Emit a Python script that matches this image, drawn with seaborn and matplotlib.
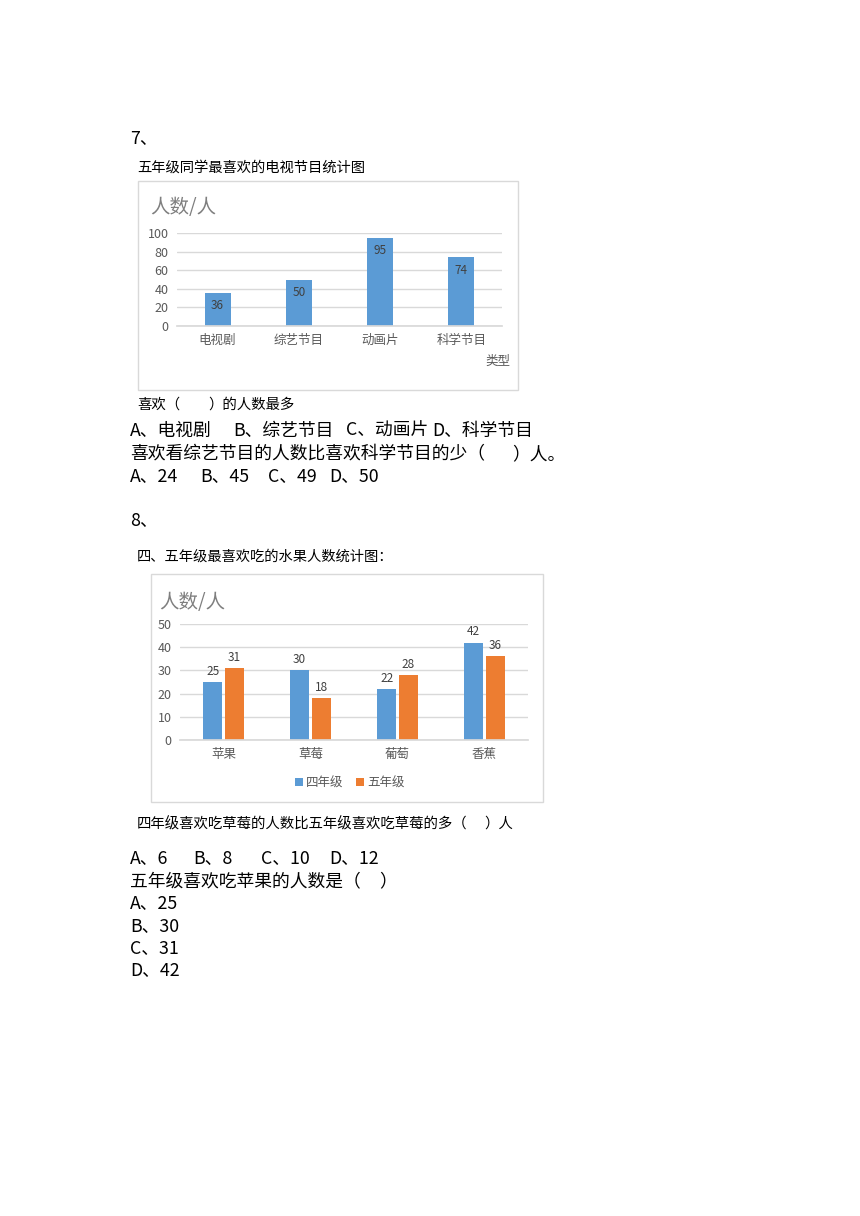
import matplotlib
import numpy as np
import pandas as pd

matplotlib.use("Agg")
import matplotlib.pyplot as plt
import seaborn as sns
from matplotlib.patches import Rectangle

# chart 7 data
tv_types  = ["电视剧", "综艺节目", "动画片", "科学节目"]
tv_counts = [36, 50, 95, 74]

# chart 8 data
fruits  = ["苹果", "草莓", "葡萄", "香蕉"]
grades  = ["四年级", "五年级"]
grade4  = [25, 30, 22, 42]
grade5  = [31, 18, 28, 36]

BLUE   = "#5B9BD5"
ORANGE = "#ED7D31"
GRID   = "#D9D9D9"
TICK   = "#595959"
LABEL  = "#404040"

W, H = 860, 1216
BODY = 12.8
CAP  = 10.4

sns.set_theme(style="white")
plt.rcParams["font.family"] = ["Noto Sans CJK SC", "DejaVu Sans"]

fig = plt.figure(figsize=(W / 100, H / 100), dpi=100)


def fx(x):
    return x / W


def fy(y):
    return 1 - y / H


def put(x, y, s, size=BODY, color="black", **kw):
    fig.text(fx(x), fy(y), s, fontsize=size, color=color, va="center", ha="left", **kw)


def row(y, parts, size=BODY):
    # parts: list of (x, text)
    for x, s in parts:
        put(x, y, s, size=size)


def box(x0, y0, x1, y1):
    fig.patches.append(Rectangle((fx(x0), fy(y1)), fx(x1) - fx(x0), fy(y0) - fy(y1),
                                 transform=fig.transFigure, fill=False,
                                 edgecolor=GRID, linewidth=1))


def style_axes(ax, ymax, step):
    ax.set_ylim(0, ymax)
    ax.set_yticks(np.arange(0, ymax + 1, step))
    ax.yaxis.grid(True, color=GRID, linewidth=1)
    ax.set_axisbelow(True)
    for s in ["top", "right", "left"]:
        ax.spines[s].set_visible(False)
    ax.spines["bottom"].set_color(GRID)
    ax.tick_params(axis="both", length=0, colors=TICK, labelsize=9)
    ax.tick_params(axis="x", pad=6)
    ax.tick_params(axis="y", pad=6)
    ax.set_xlabel("")
    ax.set_ylabel("")
    ax.patch.set_alpha(0)


# ---- question 7 ----
put(130, 139, "7、")
put(137, 168, "五年级同学最喜欢的电视节目统计图", size=10.3)
box(138, 181, 518, 390)

ax1 = fig.add_axes([fx(177), fy(326), fx(502) - fx(177), fy(233) - fy(326)])
sns.barplot(x=tv_types, y=tv_counts, color=BLUE, width=0.32, saturation=1,
            linewidth=0, ax=ax1)
style_axes(ax1, 100, 20)
ax1.bar_label(ax1.containers[0], padding=-14, color=LABEL, fontsize=8.5)
put(150, 207, "人数/人", size=14, color="#7F7F7F")
put(485, 361, "类型", size=9, color=TICK)

row(405, [(137, "喜欢（"), (208, "）的人数最多")], size=CAP)
row(431, [(130, "A、电视剧"), (233, "B、综艺节目"), (346, "C、动画片"), (432, "D、科学节目")])
row(454, [(130, "喜欢看综艺节目的人数比喜欢科学节目的少（"), (512, "）人。")])
row(477, [(130, "A、24"), (200, "B、45"), (268, "C、49"), (329, "D、50")])

# ---- question 8 ----
put(130, 521, "8、")
put(137, 557, "四、五年级最喜欢吃的水果人数统计图：", size=10.3)
box(151, 574, 543, 802)

df = pd.DataFrame({
    "fruit": fruits * 2,
    "grade": [grades[0]] * 4 + [grades[1]] * 4,
    "count": grade4 + grade5,
})
ax2 = fig.add_axes([fx(180), fy(740), fx(528) - fx(180), fy(624) - fy(740)])
sns.barplot(data=df, x="fruit", y="count", hue="grade", palette=[BLUE, ORANGE],
            width=0.5, gap=0.12, saturation=1, linewidth=0, ax=ax2)
style_axes(ax2, 50, 10)
for c in ax2.containers:
    ax2.bar_label(c, padding=3, color=LABEL, fontsize=8.5)
sns.move_legend(ax2, "center", bbox_to_anchor=(fx(350), fy(783)),
                bbox_transform=fig.transFigure, ncol=2, frameon=False, title=None,
                fontsize=9, handlelength=0.6, handleheight=0.6, handletextpad=0.3,
                columnspacing=1.0, labelcolor=TICK)
put(159, 602, "人数/人", size=14, color="#7F7F7F")

row(824, [(137, "四年级喜欢吃草莓的人数比五年级喜欢吃草莓的多（"), (484, "）人")], size=CAP)
row(859, [(130, "A、6"), (193, "B、8"), (261, "C、10"), (329, "D、12")])
row(881, [(130, "五年级喜欢吃苹果的人数是（"), (379, "）")])
put(130, 904, "A、25")
put(130, 927, "B、30")
put(130, 949, "C、31")
put(130, 971, "D、42")

fig.savefig("out.png", dpi=100)
plt.close(fig)
